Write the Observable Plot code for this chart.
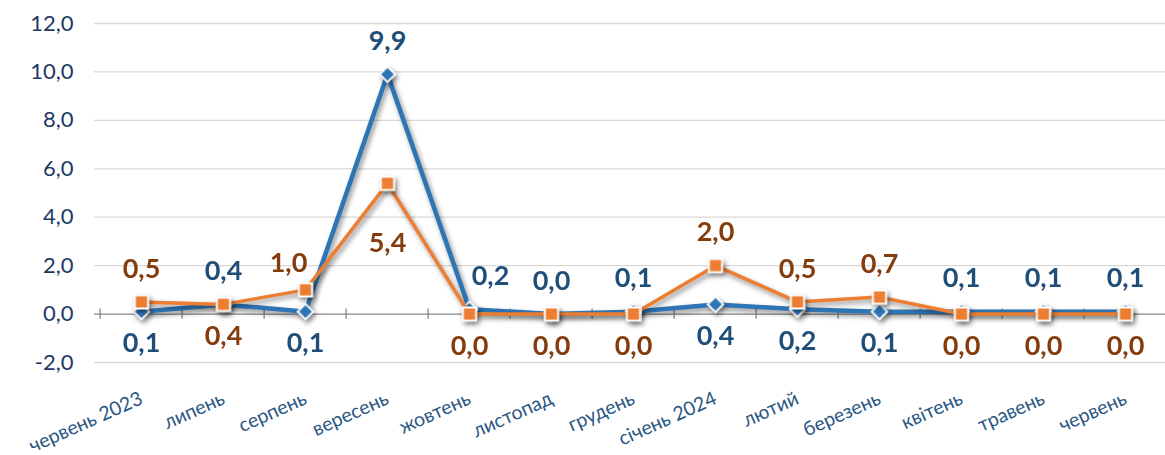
<!DOCTYPE html>
<html><head><meta charset="utf-8">
<script src="https://cdn.jsdelivr.net/npm/d3@7"></script>
<script src="https://cdn.jsdelivr.net/npm/@observablehq/plot@0.6"></script>
<style>
body{margin:0;background:#fff;}
#chart g[aria-label="line"], #chart g[aria-label="dot"]{filter: drop-shadow(2px 3px 2.5px rgba(0,0,0,0.45));}
</style></head><body><div id="chart"></div>
<script>
const months = ["червень 2023","липень","серпень","вересень","жовтень","листопад","грудень","січень 2024","лютий","березень","квітень","травень","червень"];
const blueValues = [0.1,0.4,0.1,9.9,0.2,0.0,0.1,0.4,0.2,0.1,0.1,0.1,0.1];
const orangeValues = [0.5,0.4,1.0,5.4,0.0,0.0,0.0,2.0,0.5,0.7,0.0,0.0,0.0];
const yTicks = [-2,0,2,4,6,8,10,12];
const blueLabelPos = ["below","above","below","above","aboveRight","above","above","below","below","below","above","above","above"];
const orangeLabelPos = ["above","below","aboveLeft","belowFar","below","below","below","above","above","above","below","below","below"];

const fmt = v => v.toFixed(1).replace(".", ",");
const blue = months.map((m,i)=>({month:m, value:blueValues[i], pos:blueLabelPos[i]}));
const orange = months.map((m,i)=>({month:m, value:orangeValues[i], pos:orangeLabelPos[i]}));
const step = (1129-136)/12;
const BLUE = "#2e75b6", ORANGE = "#ed7d31", BLUE_T = "#1f4e79", ORANGE_T = "#843c0c";
const labelFont = {fontSize:27, fontWeight:"bold"};
function labels(data, color) {
  const base = {x:"month", y:"value", text:d=>fmt(d.value), fill:color, ...labelFont};
  return [
    Plot.text(data.filter(d=>d.pos==="above"), {...base, dy:-33}),
    Plot.text(data.filter(d=>d.pos==="below"), {...base, dy:32}),
    Plot.text(data.filter(d=>d.pos==="aboveLeft"), {...base, dy:-26, dx:-17}),
    Plot.text(data.filter(d=>d.pos==="aboveRight"), {...base, dy:-33, dx:21}),
    Plot.text(data.filter(d=>d.pos==="belowFar"), {...base, dy:60})
  ];
}
const chart = Plot.plot({
  width:1165, height:455, marginLeft:94, marginRight:0, marginTop:23, marginBottom:93,
  style:{fontFamily:"Lato, 'Open Sans', sans-serif", background:"#fff", overflow:"visible"},
  x:{type:"point", domain:months, range:[136,1129], padding:0},
  y:{domain:[-2,12]},
  marks:[
    Plot.gridY(yTicks.filter(t=>t!==0), {stroke:"#d9d9d9", strokeOpacity:1, strokeWidth:1.3}),
    Plot.ruleY([0], {stroke:"#868686", strokeWidth:1.3}),
    Plot.ruleX(months, {x:d=>d, dx:-step/2, y1:-0.21, y2:0.21, stroke:"#868686", strokeWidth:1.3}),
    Plot.axisY(yTicks, {tickSize:0, tickPadding:21, tickFormat:fmt, fontSize:22, fill:"#1f3864", label:null}),
    Plot.axisX(months, {tickRotate:-24, tickSize:0, tickPadding:35, dx:0, fontSize:19.5, fill:"#2a5783", label:null}),
    Plot.line(blue, {x:"month", y:"value", stroke:BLUE, strokeWidth:4.5}),
    Plot.dot(blue, {x:"month", y:"value", symbol:"diamond2", r:7, fill:BLUE, stroke:"white", strokeWidth:2}),
    Plot.line(orange, {x:"month", y:"value", stroke:ORANGE, strokeWidth:3.5}),
    Plot.dot(orange, {x:"month", y:"value", symbol:"square", r:7.5, fill:ORANGE, stroke:"white", strokeWidth:2}),
    ...labels(blue, BLUE_T),
    ...labels(orange, ORANGE_T)
  ]
});
document.getElementById("chart").appendChild(chart);
</script></body></html>
